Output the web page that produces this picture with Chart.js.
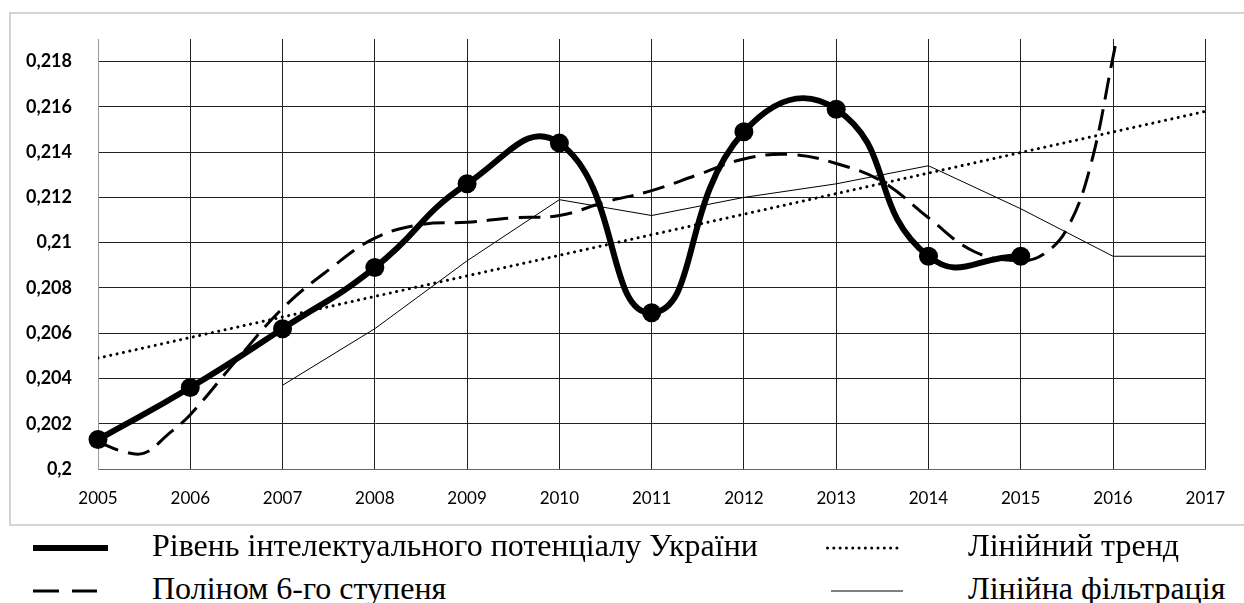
<!DOCTYPE html>
<html>
<head>
<meta charset="utf-8">
<script src="https://cdn.jsdelivr.net/npm/chart.js@4.4.1/dist/chart.umd.min.js"></script>
<style>
  body { margin: 0; background: #fff; width: 1244px; height: 603px; overflow: hidden; position: relative; }
  #frame { position: absolute; left: 9px; top: 12px; width: 1245px; height: 514px; border: 2px solid #d4d4d4; box-sizing: border-box; }
  #chartBox { position: absolute; left: 0; top: 0; width: 1244px; height: 530px; }
  .lg { position: absolute; font-family: "Liberation Serif", "Times New Roman", serif; font-size: 32px; color: #000; line-height: 32px; white-space: nowrap; }
  svg.key { position: absolute; overflow: visible; }
</style>
</head>
<body>
<div id="frame"></div>
<div id="chartBox"><canvas id="chartId" width="1244" height="530"></canvas></div>

<svg class="key" style="left:33px;top:538px" width="76" height="20"><line x1="0" y1="10" x2="75" y2="10" stroke="#000" stroke-width="6"/></svg>
<div class="lg" style="left:152px;top:529px">Рівень інтелектуального потенціалу України</div>
<svg class="key" style="left:826px;top:538px" width="80" height="20"><line x1="1.5" y1="10" x2="77" y2="10" stroke="#000" stroke-width="3" stroke-linecap="round" stroke-dasharray="0.01 6.3"/></svg>
<div class="lg" style="left:968px;top:529px">Лінійний тренд</div>

<svg class="key" style="left:33px;top:581px" width="70" height="20"><line x1="0" y1="10" x2="64" y2="10" stroke="#000" stroke-width="3" stroke-dasharray="26 13"/></svg>
<div class="lg" style="left:152px;top:572px">Поліном 6-го ступеня</div>
<svg class="key" style="left:831px;top:581px" width="76" height="20"><line x1="0" y1="10" x2="72" y2="10" stroke="#000" stroke-width="1"/></svg>
<div class="lg" style="left:968px;top:572px">Лінійна фільтрація</div>

<script>
const years = [2005, 2006, 2007, 2008, 2009, 2010, 2011, 2012, 2013, 2014, 2015];
const levelValues = [0.2013, 0.2036, 0.2062, 0.2089, 0.2126, 0.2144, 0.2069, 0.2149, 0.2159, 0.2094, 0.2094];

const trendYears = [2005, 2017];
const trendValues = [0.2049, 0.2158];

// polynomial trend (half-year points where it bends)
const polyYears = [2005, 2005.25, 2005.5, 2005.75, 2006, 2006.5, 2007, 2007.5, 2008, 2008.5, 2009, 2009.5, 2010, 2010.5,
  2011, 2011.5, 2012, 2012.5, 2013, 2013.5, 2014, 2014.5, 2015, 2015.25, 2015.5, 2015.75, 2016, 2016.1];
const polyValues = [0.2012, 0.2008, 0.2007, 0.2015, 0.2024, 0.2048, 0.2071, 0.2088, 0.2102, 0.2108, 0.2109, 0.2111, 0.2112, 0.2118,
  0.2123, 0.2130, 0.2137, 0.2139, 0.2135, 0.2127, 0.2111, 0.2096, 0.2092, 0.2095, 0.2106, 0.2133, 0.2182, 0.2203];

const filterYears = [2007, 2008, 2009, 2010, 2011, 2012, 2013, 2014, 2015, 2016, 2017];
const filterValues = [0.2037, 0.2062, 0.2092, 0.2119, 0.2112, 0.2120, 0.2126, 0.2134, 0.2115, 0.2094, 0.2094];

const yTicksMin = 0.2, yTicksMax = 0.219, yStep = 0.002;

const pts = (xs, ys) => xs.map((x, i) => ({ x: x, y: ys[i] }));

const ctx = document.getElementById('chartId').getContext('2d');

const chart = new Chart(ctx, {
  type: 'line',
  data: {
    datasets: [
      {
        label: 'Рівень інтелектуального потенціалу України',
        data: pts(years, levelValues),
        borderColor: '#000',
        backgroundColor: '#000',
        borderWidth: 6,
        tension: 0.5,
        pointRadius: 9.5,
        pointBackgroundColor: '#000',
        pointBorderWidth: 0,
        clip: false
      },
      {
        label: 'Поліном 6-го ступеня',
        data: pts(polyYears, polyValues),
        borderColor: '#000',
        borderWidth: 3,
        borderDash: [22, 10],
        tension: 0.4,
        pointRadius: 0
      },
      {
        label: 'Лінійний тренд',
        data: pts(trendYears, trendValues),
        borderColor: '#000',
        borderWidth: 3,
        borderDash: [0.01, 6.5],
        borderCapStyle: 'round',
        pointRadius: 0
      },
      {
        label: 'Лінійна фільтрація',
        data: pts(filterYears, filterValues),
        borderColor: '#000',
        borderWidth: 1,
        tension: 0,
        pointRadius: 0
      }
    ]
  },
  options: {
    responsive: false,
    animation: false,
    devicePixelRatio: 1,
    layout: { padding: { top: 39, right: 37, left: 0, bottom: 0 } },
    plugins: { legend: { display: false }, tooltip: { enabled: false } },
    scales: {
      x: {
        type: 'linear',
        min: 2005,
        max: 2017,
        afterFit: (scale) => { scale.height = 61; },
        ticks: {
          stepSize: 1,
          callback: (v) => String(v),
          color: '#000',
          font: { family: 'Lato', size: 17 },
          padding: 19,
          maxRotation: 0
        },
        grid: { color: '#222', lineWidth: 1, drawTicks: false },
        border: { color: '#666' }
      },
      y: {
        min: yTicksMin,
        max: yTicksMax,
        afterFit: (scale) => { scale.width = 98; },
        ticks: {
          stepSize: yStep,
          includeBounds: false,
          callback: (v) => String(Math.round(v * 1000) / 1000).replace('.', ','),
          color: '#000',
          font: { family: 'Lato', size: 18, weight: 'bold' },
          padding: 26
        },
        grid: { color: '#222', lineWidth: 1, drawTicks: false },
        border: { color: '#999' }
      }
    }
  }
});
</script>
</body>
</html>
